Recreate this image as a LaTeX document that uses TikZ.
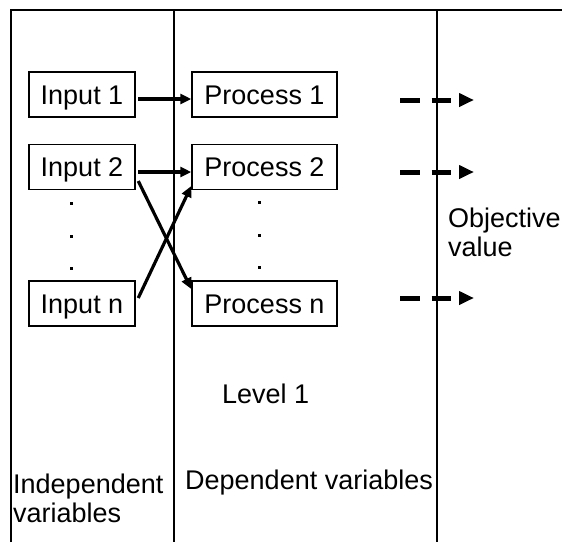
\documentclass[tikz,border=0pt]{standalone}
\usepackage{fontspec}
\setmainfont{Liberation Sans}
\usetikzlibrary{arrows.meta}

\begin{document}
\begin{tikzpicture}[x=1pt,y=-1pt,
  txt/.style={font=\fontsize{27}{28.5}\selectfont},
  frameline/.style={line width=1.3pt},
  box/.style={draw, line width=1.5pt, inner sep=0pt, minimum height=45pt,
              text height=19.3pt, text depth=0pt, txt},
  inbox/.style={box, minimum width=106pt},
  procbox/.style={box, minimum width=145pt},
  link/.style={line width=3.2pt, -{Triangle[length=11pt,width=10pt]}},
  objarrow/.style={line width=5pt, dash pattern=on 19.5pt off 12pt,
                   -{Triangle[length=15pt,width=13pt]}},
  caption/.style={anchor=base west, inner sep=0pt, align=left, txt},
  ellip/.style={fill, minimum size=3pt, inner sep=0pt}
]
\useasboundingbox (0,0) rectangle (562,542);

% column frame
\draw[frameline] (11,542) -- (11,10) -- (562,10);
\draw[frameline] (174,10) -- (174,542);
\draw[frameline] (437,10) -- (437,542);

% inputs
\node[inbox] (i1) at (82,94.5) {Input 1};
\node[inbox] (i2) at (82,167) {Input 2};
\node[inbox] (in) at (82,303.5) {Input n};

% processes
\node[procbox] (p1) at (264.5,94.5) {Process 1};
\node[procbox] (p2) at (264.5,167) {Process 2};
\node[procbox] (pn) at (264.5,303.5) {Process n};

% vertical ellipses
\node[ellip] (id1) at (71,203) {};
\node[ellip] (id2) at (71,236) {};
\node[ellip] (id3) at (71,268) {};
\node[ellip] (pd1) at (259,202) {};
\node[ellip] (pd2) at (259,235) {};
\node[ellip] (pd3) at (259,267) {};

% links between inputs and processes
\draw[link] ([xshift=2.5pt,yshift=-4.5pt]i1.east) -- ([yshift=-4.5pt]p1.west);
\draw[link] ([xshift=2.5pt,yshift=-5pt]i2.east) -- ([yshift=-5pt]p2.west);
\draw[link] ([xshift=2.5pt,yshift=-14pt]i2.east) -- ([yshift=14.5pt]pn.west);
\draw[link] ([xshift=2.5pt,yshift=5.5pt]in.east) -- ([yshift=-19pt]p2.west);

% outgoing dashed arrows
\coordinate (o1s) at (400,100);
\coordinate (o1e) at (474,100);
\coordinate (o2s) at (400,172);
\coordinate (o2e) at (474,172);
\coordinate (o3s) at (400,298);
\coordinate (o3e) at (474,298);
\draw[objarrow] (o1s) -- (o1e);
\draw[objarrow] (o2s) -- (o2e);
\draw[objarrow] (o3s) -- (o3e);

% labels (base anchor sits on the last line of a multi-line label)
\node[caption] (obj) at (448,256) {Objective\\value};
\node[caption] (lvl) at (222,403) {Level 1};
\node[caption] (indep) at (13,522) {Independent\\variables};
\node[caption] (dep) at (185,489) {Dependent variables};
\end{tikzpicture}
\end{document}
